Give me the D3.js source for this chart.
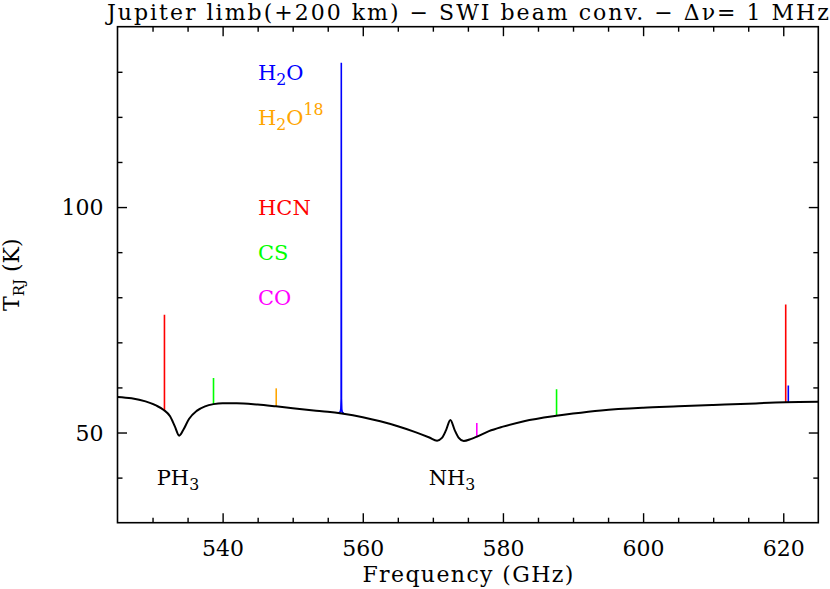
<!DOCTYPE html>
<html><head><meta charset="utf-8">
<script src="https://cdn.jsdelivr.net/npm/d3@7"></script>
<style>
html,body{margin:0;padding:0;background:#fff;}
svg{display:block;}
text{font-family:"DejaVu Serif",serif;fill:#000;}
</style></head>
<body><svg id="c" width="830" height="589"></svg>
<script>
// ---- data ----
const contFreq = [525,527,529,530.5,531.6,532.5,533.2,533.8,534.4,535.2,536.3,537.5,538.7,540,542,545,547.6,550,553,555,557,560,562.5,565,567.5,569.5,570.6,571.3,571.9,572.5,573.1,573.7,574.4,575.5,576.3,578,580,583,587.6,590,594,600,605,610,615,620.3,625];
const contT    = [57.9,57.6,56.9,56.0,55.0,53.6,51.3,49.3,50.6,53.0,54.8,55.8,56.3,56.5,56.5,56.2,55.8,55.4,54.9,54.6,54.2,53.4,52.5,51.4,50.1,48.9,48.2,48.8,50.6,52.8,50.6,48.8,48.1,48.6,49.1,50.3,51.3,52.5,53.7,54.2,54.9,55.5,55.8,56.1,56.4,56.7,56.8];

const lineSpecies = ["HCN","CS","H2O18","CO","CS","HCN","H2O"];
const lineFreq    = [531.7,538.7,547.65,576.27,587.65,620.35,620.72];
const linePeak    = [76.1,62.1,59.8,52.1,59.6,78.4,60.4];
const lineBase    = [55.0,56.3,55.8,49.1,53.7,56.7,56.7];

// strong H2O 557 GHz line profile
const h2oFreq = [556.6,556.8,556.87,556.91,556.936,556.96,557.0,557.07,557.27];
const h2oT    = [54.4,54.6,55.3,57.5,132.0,57.5,55.2,54.5,54.3];

const speciesNames  = ["H2O","H2O18","HCN","CS","CO"];
const speciesColors = ["#0000ff","#ffa500","#ff0000","#00ff00","#ff00ff"];
const speciesLabelT = [130,120,100,90,80];

const molNames = ["PH3","NH3"];
const molFreq  = [530.6,569.4];
const molT     = [38.3,38.3];

const xMajor = [540,560,580,600,620];
const xMinor = [530,535,545,550,555,565,570,575,585,590,595,605,610,615];
const yMajor = [50,100];
const yMinor = [40,60,70,80,90,110,120,130];

// ---- layout ----
const L=117.5, R=818.3, T=26.7, B=522.7;
const svg = d3.select("#c");
const x = d3.scaleLinear().domain([525,625]).range([L,R]);
const y = d3.scaleLinear().domain([30,140]).range([B,T]);
const colorOf = d3.scaleOrdinal().domain(speciesNames).range(speciesColors);

svg.append("clipPath").attr("id","clip").append("rect")
  .attr("x",L).attr("y",T).attr("width",R-L).attr("height",B-T);
const plot = svg.append("g").attr("clip-path","url(#clip)");

// spikes
plot.selectAll("line.spk").data(lineFreq).enter().append("line")
  .attr("x1",d=>x(d)).attr("x2",d=>x(d))
  .attr("y1",(d,i)=>y(lineBase[i])).attr("y2",(d,i)=>y(linePeak[i]))
  .attr("stroke",(d,i)=>colorOf(lineSpecies[i])).attr("stroke-width",1.6);

const h2oPts = h2oFreq.map((f,i)=>[f,h2oT[i]]);
plot.append("path").datum(h2oPts)
  .attr("d",d3.line().x(d=>x(d[0])).y(d=>y(d[1])))
  .attr("fill","none").attr("stroke","#0000ff").attr("stroke-width",1.6);

// continuum
const contPts = contFreq.map((f,i)=>[f,contT[i]]);
plot.append("path").datum(contPts)
  .attr("d",d3.line().x(d=>x(d[0])).y(d=>y(d[1])).curve(d3.curveMonotoneX))
  .attr("fill","none").attr("stroke","#000").attr("stroke-width",2);

// axes (ticks inward on all sides)
function ax(gen, tx, ty, vals, size, labels){
  const g = svg.append("g").attr("transform",`translate(${tx},${ty})`)
    .call(gen.tickValues(vals).tickSize(size).tickSizeOuter(0).tickFormat(labels?d3.format("d"):""));
  g.select(".domain").remove();
  g.selectAll(".tick line").attr("stroke","#000").attr("stroke-width",1.4);
  g.selectAll(".tick text").attr("font-size","22px").style("font-family","DejaVu Serif");
  return g;
}
const gb = ax(d3.axisBottom(x), 0, B, xMajor, -9.5, true);
gb.selectAll(".tick text").attr("y",33).attr("dy",0);
ax(d3.axisBottom(x), 0, B, xMinor, -5, false);
ax(d3.axisTop(x), 0, T, xMajor, -9.5, false);
ax(d3.axisTop(x), 0, T, xMinor, -5, false);
const gl = ax(d3.axisLeft(y), L, 0, yMajor, -9.5, true);
gl.selectAll(".tick text").attr("x",-14).attr("dy","0.36em");
ax(d3.axisLeft(y), L, 0, yMinor, -5, false);
ax(d3.axisRight(y), R, 0, yMajor, -9.5, false);
ax(d3.axisRight(y), R, 0, yMinor, -5, false);

svg.append("rect").attr("x",L).attr("y",T).attr("width",R-L).attr("height",B-T)
  .attr("fill","none").attr("stroke","#000").attr("stroke-width",1.6);

// species labels
const lx = 258;
function chem(t, name, fs){
  const s = fs*0.75;
  if(name==="H2O18"){
    t.append("tspan").text("H");
    t.append("tspan").text("2").attr("font-size",s).attr("dy",5);
    t.append("tspan").text("O").attr("dy",-5);
    t.append("tspan").text("18").attr("font-size",s).attr("dy",-10);
  } else if(/\d/.test(name)){
    const parts = name.match(/^(\D+)(\d)(\D*)$/);
    t.append("tspan").text(parts[1]);
    t.append("tspan").text(parts[2]).attr("font-size",s).attr("dy",5);
    if(parts[3]) t.append("tspan").text(parts[3]).attr("dy",-5);
  } else {
    t.append("tspan").text(name);
  }
}
speciesNames.forEach((n,i)=>{
  const t = svg.append("text").attr("x",lx).attr("y",y(speciesLabelT[i])+8)
    .attr("font-size","21px").style("fill",speciesColors[i]);
  chem(t,n,21);
});
molNames.forEach((n,i)=>{
  const t = svg.append("text").attr("x",x(molFreq[i])).attr("y",y(molT[i]))
    .attr("font-size","21px");
  chem(t,n,21);
});

// title
svg.append("text").attr("x",(L+R)/2).attr("y",20).attr("text-anchor","middle")
  .attr("font-size","22px").attr("textLength",722).attr("lengthAdjust","spacing")
  .text("Jupiter limb(+200 km) \u2212 SWI beam conv. \u2212 \u0394\u03bd= 1 MHz");

// x label
svg.append("text").attr("x",(L+R)/2).attr("y",582).attr("text-anchor","middle")
  .attr("font-size","22px").attr("textLength",211).attr("lengthAdjust","spacing")
  .text("Frequency (GHz)");

// y label
const yl = svg.append("text").attr("transform",`translate(19,${(T+B)/2}) rotate(-90)`)
  .attr("text-anchor","middle").attr("font-size","22px");
yl.append("tspan").text("T");
yl.append("tspan").text("RJ").attr("font-size","15px").attr("dy",5);
yl.append("tspan").text(" (K)").attr("dy",-5);
</script></body></html>
